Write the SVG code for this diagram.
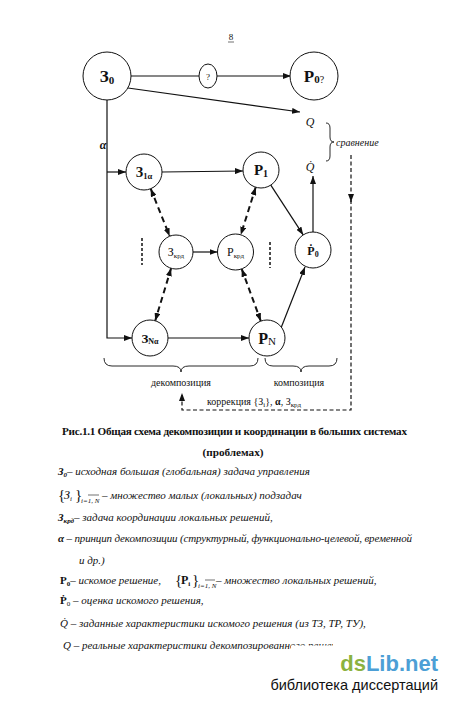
<svg xmlns="http://www.w3.org/2000/svg" width="450" height="701" viewBox="0 0 450 701" font-family="'Liberation Serif', 'Times New Roman', serif">
<style>
.bg{fill:#fff}
.node{fill:#fff;stroke:#111;stroke-width:1}
.ln{stroke:#111;stroke-width:1.2;fill:none}
.dd{stroke:#111;stroke-width:2;stroke-dasharray:6 4;fill:none}
.dsh{stroke:#111;stroke-width:1.2;stroke-dasharray:4 2.5;fill:none}
.st{stroke:#111;stroke-width:1.5;stroke-dasharray:3 2;fill:none}
.br{stroke:#111;stroke-width:0.9;fill:none}
text{font-family:"Liberation Serif","Times New Roman",serif;fill:#111}
.lbl{font-weight:bold;text-anchor:middle}
.it{font-style:italic;font-size:11px}
.cap{font-weight:bold;font-size:11.2px;text-anchor:middle}
.wm{font-family:"Liberation Sans",Arial,sans-serif}
</style>
<defs>
<marker id="ah" viewBox="0 0 8 6" refX="8" refY="3" markerWidth="8" markerHeight="6" markerUnits="userSpaceOnUse" orient="auto-start-reverse">
<path d="M0,0 L8,3 L0,6 z" fill="#111"/>
</marker>
</defs>
<rect class="bg" x="0" y="0" width="450" height="701"/>

<text x="231" y="40" font-size="9" text-anchor="middle">8</text>
<line x1="228" y1="42" x2="234" y2="42" stroke="#111" stroke-width="0.6"/>

<g id="connectors">
<line class="ln" x1="131" y1="76" x2="199" y2="76"/>
<line class="ln" x1="217" y1="76" x2="291" y2="76" marker-end="url(#ah)"/>
<line class="ln" x1="128" y1="88" x2="300" y2="112" marker-end="url(#ah)"/>
<polyline class="ln" points="107,100 107,338 132,338" marker-end="url(#ah)"/>
<line class="ln" x1="107" y1="172" x2="126" y2="172" marker-end="url(#ah)"/>
<line class="ln" x1="162" y1="172" x2="243" y2="171" marker-end="url(#ah)"/>
<line class="ln" x1="193" y1="252" x2="217.5" y2="252" marker-end="url(#ah)"/>
<line class="ln" x1="168" y1="338" x2="249" y2="338" marker-end="url(#ah)"/>
<line class="ln" x1="270.8" y1="185.1" x2="303.2" y2="234.9" marker-end="url(#ah)"/>
<line class="ln" x1="281" y1="328" x2="305" y2="267" marker-end="url(#ah)"/>
<line class="ln" x1="313" y1="232" x2="313" y2="176" marker-end="url(#ah)"/>
<line class="dd" x1="150.7" y1="188.7" x2="169.7" y2="236.2" marker-start="url(#ah)" marker-end="url(#ah)"/>
<line class="dd" x1="255.7" y1="187.2" x2="240.8" y2="234.8" marker-start="url(#ah)" marker-end="url(#ah)"/>
<line class="dd" x1="171.1" y1="268.3" x2="155.2" y2="320.8" marker-start="url(#ah)" marker-end="url(#ah)"/>
<line class="dd" x1="241.7" y1="268.9" x2="260.8" y2="321.1" marker-start="url(#ah)" marker-end="url(#ah)"/>
<line class="st" x1="142" y1="238" x2="142" y2="265"/>
<line class="st" x1="270" y1="242" x2="270" y2="268"/>
<line class="dsh" x1="351" y1="155" x2="351" y2="202" marker-end="url(#ah)"/>
<polyline class="dsh" points="351,200 351,410 182,410 182,393" marker-end="url(#ah)"/>
<path class="br" d="M104,358 Q104,366 112,366 L173,366 Q181,366 181,372 Q181,366 189,366 L250,366 Q258,366 258,358"/>
<path class="br" d="M265,358 Q265,366 273,366 L293,366 Q301,366 301,372 Q301,366 309,366 L329,366 Q337,366 337,358"/>
<path class="br" d="M326,123 Q330,123 330,128 L330,137 Q330,142 334,142 Q330,142 330,147 L330,156 Q330,161 326,161"/>
<text x="103" y="149" font-size="12" font-weight="bold" font-style="italic" text-anchor="middle">α</text>
<text x="310" y="126" font-size="12" font-style="italic" text-anchor="middle">Q</text>
<text x="310" y="171" font-size="12" font-style="italic" text-anchor="middle">Q̇</text>
<text x="336" y="146" font-size="10" font-style="italic">сравнение</text>
<text x="181" y="386" font-size="10" text-anchor="middle">декомпозиция</text>
<text x="299" y="386" font-size="10" text-anchor="middle">композиция</text>
<text x="207" y="405" font-size="10">коррекция {З<tspan font-size="7" dy="2">i</tspan><tspan dy="-2">}, </tspan><tspan font-weight="bold">α</tspan>, З<tspan font-size="7" dy="2">крд</tspan></text>
</g>

<g id="n-z0"><circle class="node" cx="107" cy="76" r="24"/><text class="lbl" x="107" y="82" font-size="17">З<tspan font-size="11" dy="2">0</tspan></text></g>
<g id="n-q"><ellipse class="node" cx="208" cy="76" rx="9" ry="12"/><text x="208" y="80" font-size="9" text-anchor="middle">?</text></g>
<g id="n-p0"><circle class="node" cx="314" cy="76" r="24"/><text class="lbl" x="314" y="82" font-size="17">P<tspan font-size="11" dy="1">0</tspan><tspan font-size="10" font-weight="normal">?</tspan></text></g>
<g id="n-z1"><circle class="node" cx="144" cy="172" r="18"/><text class="lbl" x="144" y="177" font-size="14" font-weight="normal">З<tspan font-size="8.5" dy="1.5">1α</tspan></text></g>
<g id="n-p1"><circle class="node" cx="261" cy="170" r="18"/><text class="lbl" x="261" y="175" font-size="15">P<tspan font-size="10" dy="1.5">1</tspan></text></g>
<g id="n-zk"><circle class="node" cx="176" cy="252" r="17"/><text x="176" y="256" font-size="12" text-anchor="middle">З<tspan font-size="7" dy="1.5">крд</tspan></text></g>
<g id="n-pk"><circle class="node" cx="235.5" cy="252" r="18"/><text x="235.5" y="256" font-size="12" text-anchor="middle">P<tspan font-size="7" dy="1.5">крд</tspan></text></g>
<g id="n-ph"><circle class="node" cx="313" cy="250" r="18"/><text class="lbl" x="313" y="255" font-size="12">Ṗ<tspan font-size="8" dy="1.5">0</tspan></text></g>
<g id="n-zn"><circle class="node" cx="150" cy="338" r="18"/><text class="lbl" x="150" y="343" font-size="13" font-weight="normal">З<tspan font-size="8" dy="1">Nα</tspan></text></g>
<g id="n-pn"><circle class="node" cx="267" cy="338" r="18"/><text class="lbl" x="267" y="344" font-size="16">P<tspan font-size="11" font-weight="normal" dy="0.5">N</tspan></text></g>

<g id="caption">
<text class="cap" x="234.5" y="435" textLength="345">Рис.1.1 Общая схема декомпозиции и координации в больших системах</text>
<text class="cap" x="233" y="456">(проблемах)</text>
</g>

<g id="legend">
<text class="it" x="58" y="475"><tspan font-weight="bold">З<tspan font-size="7" dy="2">0</tspan></tspan><tspan dy="-2">– исходная большая (глобальная) задача управления</tspan></text>
<text x="58" y="500" font-size="15">{</text>
<text x="64" y="499" font-size="12" font-style="italic">З<tspan font-size="7" dy="2">i</tspan></text>
<text x="75" y="500" font-size="15">}</text>
<text x="81" y="503" font-size="7" font-style="italic">i=1, N</text>
<line x1="88" y1="495" x2="99" y2="495" stroke="#111" stroke-width="0.6"/>
<text class="it" x="102" y="499">– множество малых (локальных) подзадач</text>
<text class="it" x="58" y="521"><tspan font-weight="bold">З<tspan font-size="7" dy="2">крд</tspan></tspan><tspan dy="-2">– задача координации локальных решений,</tspan></text>
<text class="it" x="58" y="542" textLength="354"><tspan font-weight="bold">α</tspan> – принцип декомпозиции (структурный, функционально-целевой, временной</text>
<text class="it" x="79" y="564">и др.)</text>
<text class="it" x="60" y="584"><tspan font-weight="bold" font-style="normal">P<tspan font-size="7" dy="2">0</tspan></tspan><tspan dy="-2">– искомое решение,</tspan></text>
<text x="175" y="585" font-size="15">{</text>
<text x="181" y="584" font-size="12" font-weight="bold">P<tspan font-size="7" dy="2">i</tspan></text>
<text x="192" y="585" font-size="15">}</text>
<text x="198" y="588" font-size="7" font-style="italic">i=1, N</text>
<line x1="205" y1="580" x2="215" y2="580" stroke="#111" stroke-width="0.6"/>
<text class="it" x="216" y="584">– множество локальных решений,</text>
<text class="it" x="60" y="604"><tspan font-weight="bold" font-style="normal">Ṗ<tspan font-size="7" font-weight="normal" dy="2">0</tspan></tspan><tspan dy="-2"> – оценка искомого решения,</tspan></text>
<text class="it" x="60" y="627">Q̇ – заданные характеристики искомого решения (из ТЗ, ТР, ТУ),</text>
<text class="it" x="63" y="649">Q – реальные характеристики декомпозированного решения</text>
<rect x="291" y="645.5" width="50" height="10" fill="#fff"/>
<rect x="333" y="638" width="80" height="18" fill="#fff"/>
</g>

<g id="watermark">
<text class="wm" x="438" y="671" font-size="22" font-weight="bold" text-anchor="end"><tspan fill="#8cb23f">ds</tspan><tspan fill="#4c9fd6">Lib.net</tspan></text>
<text class="wm" x="438" y="690" font-size="14.5" fill="#5a9fd4" text-anchor="end">библиотека диссертаций</text>
</g>
</svg>
